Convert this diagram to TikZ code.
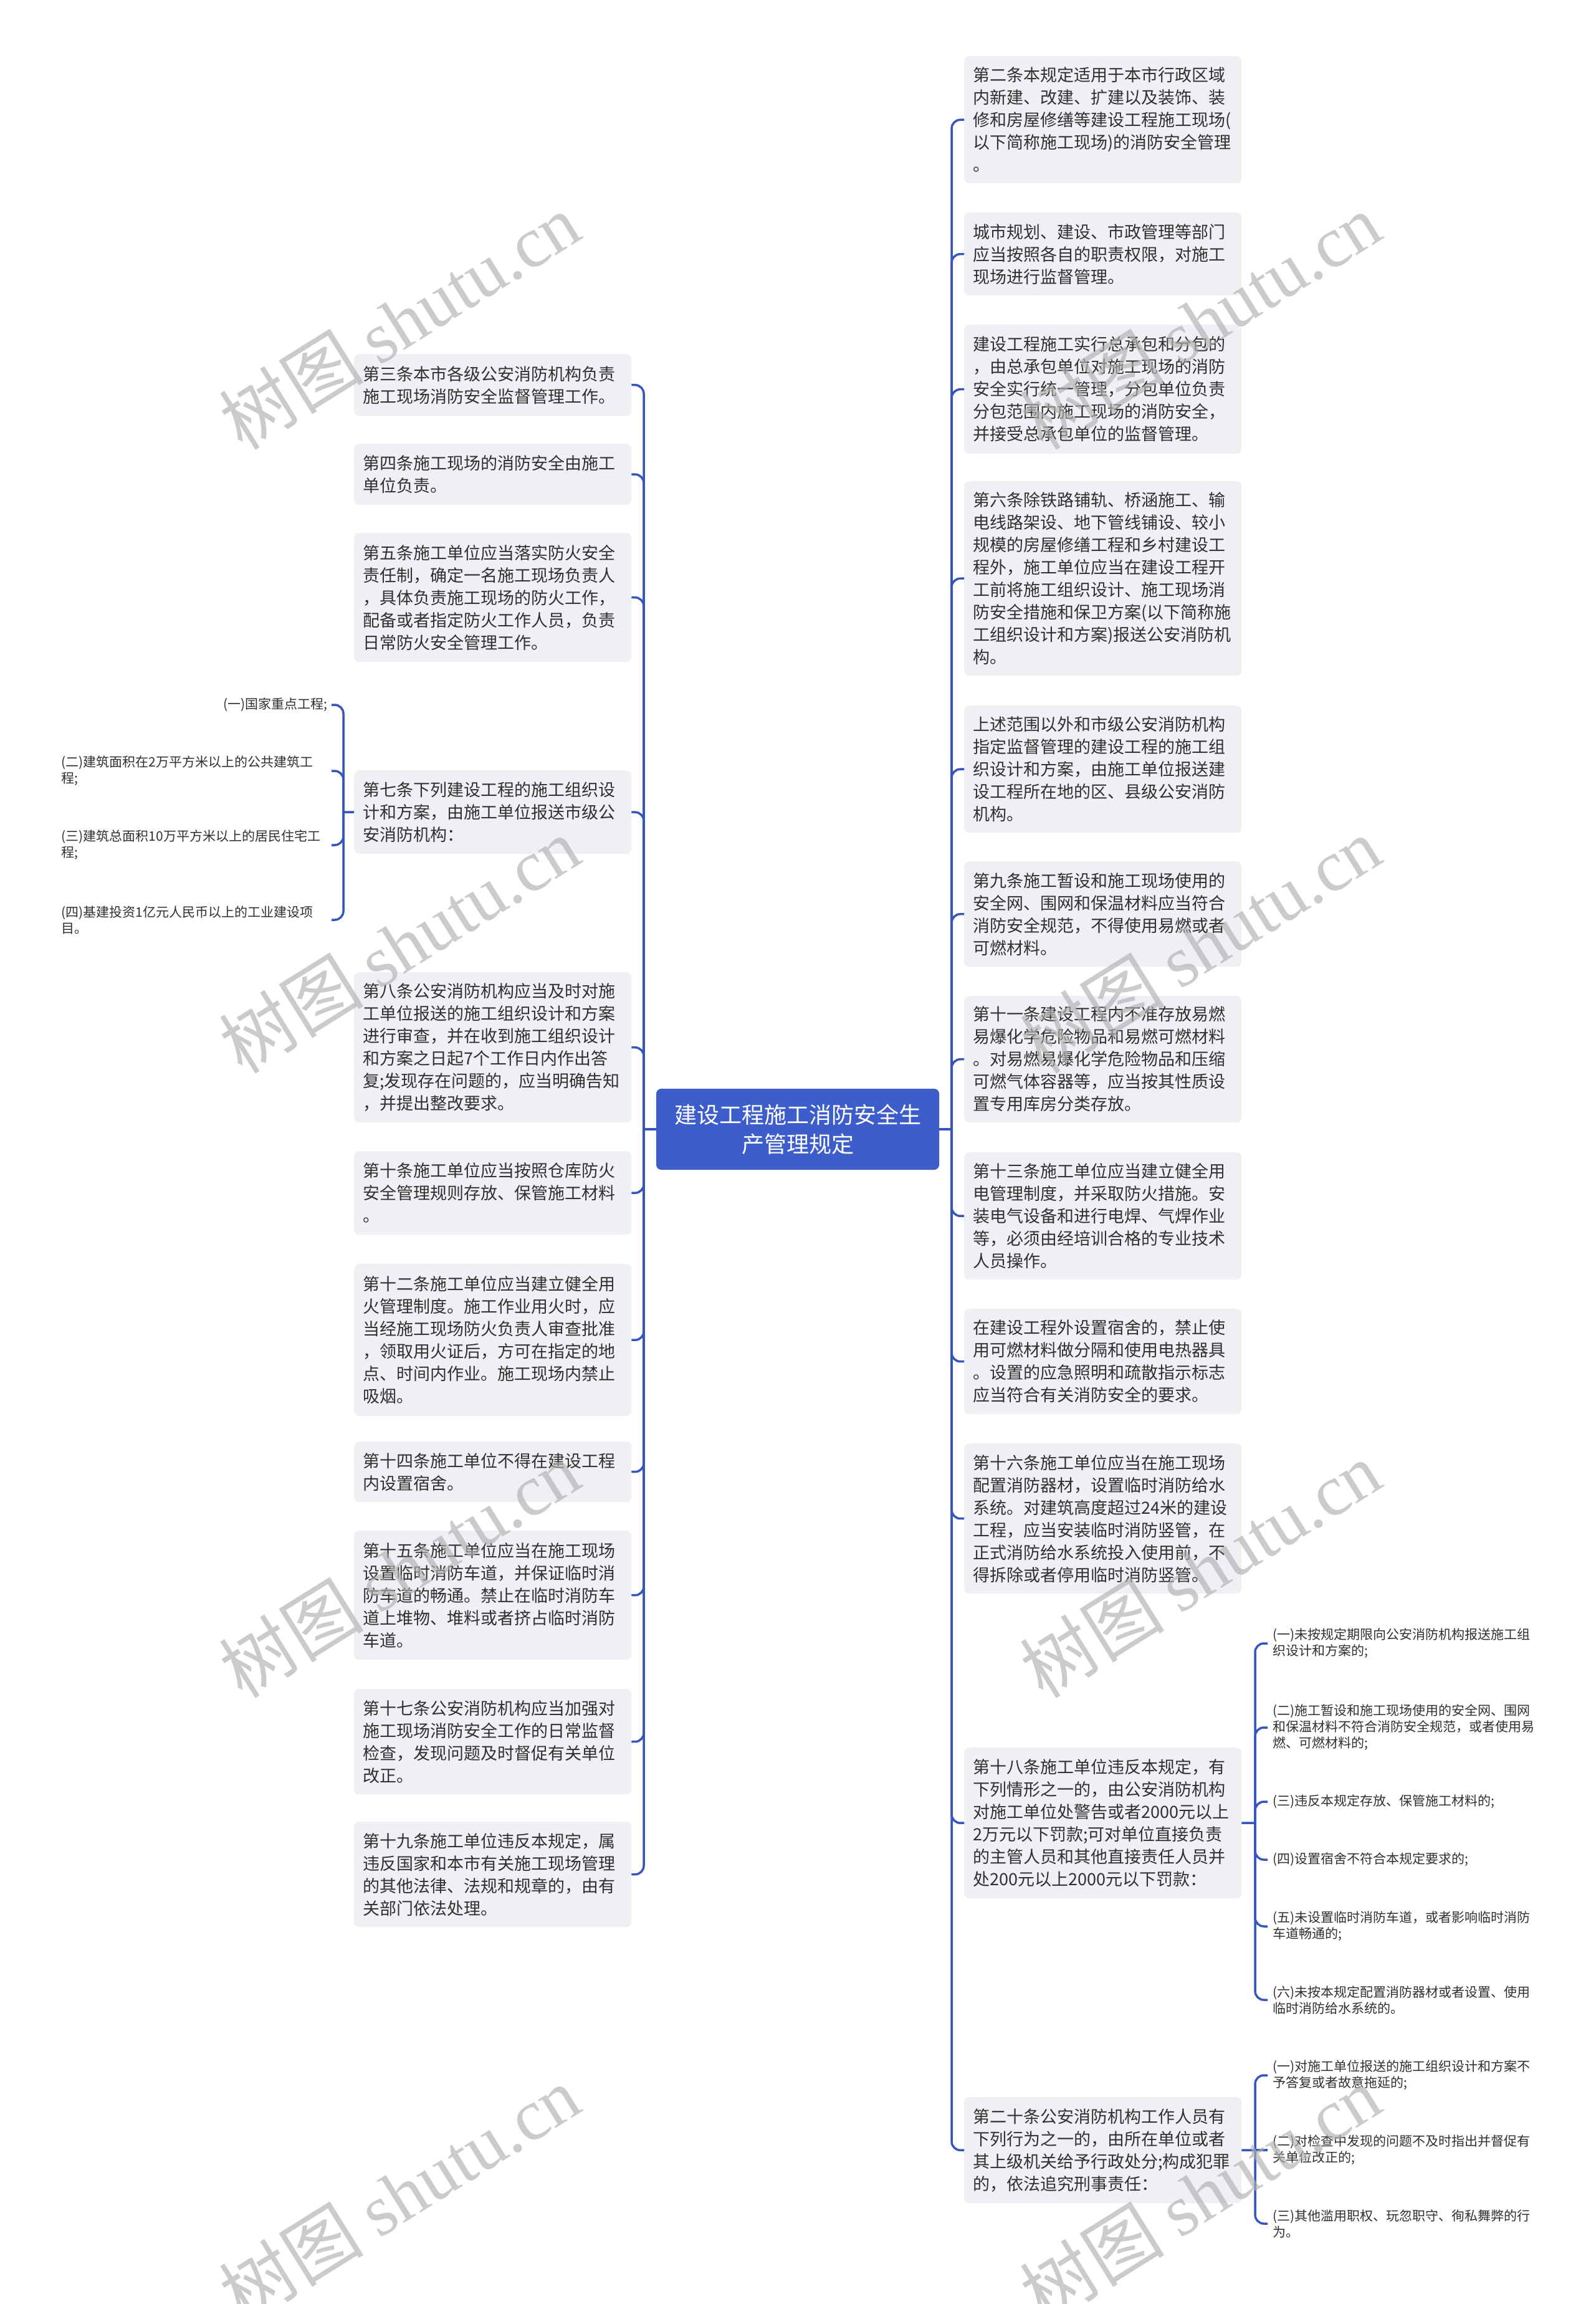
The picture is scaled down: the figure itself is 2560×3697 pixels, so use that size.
\documentclass[tikz,border=0pt]{standalone}
\usepackage{fontspec}
\setmainfont{Noto Sans CJK SC}
\newfontfamily\wmserif{Liberation Serif}
\definecolor{boxfill}{HTML}{EEF0F4}
\definecolor{textc}{HTML}{303030}
\definecolor{linec}{HTML}{3656BE}
\definecolor{rootc}{HTML}{3D5DCB}
\definecolor{wmc}{HTML}{B0B0B0}
\tikzset{
  box/.style={fill=boxfill, rounded corners=8pt, text width=417pt, minimum width=445pt,
    inner xsep=14pt, inner ysep=0pt, align=left, anchor=north west,
    font=\fontsize{27}{36}\selectfont, text=textc},
  rootbox/.style={fill=rootc, rounded corners=8pt, text=white, align=center,
    font=\fontsize{36}{47}\selectfont, minimum width=454pt, minimum height=130pt},
  leafl/.style={font=\fontsize{21}{26}\selectfont, text=textc, align=left,
    inner xsep=6pt, inner ysep=0pt, anchor=east},
  leaflw/.style={leafl, text width=427pt},
  leafr/.style={font=\fontsize{21}{26}\selectfont, text=textc, align=left,
    inner xsep=8pt, inner ysep=0pt, anchor=west},
  conn/.style={draw=linec, line width=3.5pt, rounded corners=14pt},
  wm/.style={text=wmc, opacity=0.65, rotate=32, font=\fontsize{116}{116}\selectfont}
}
\begin{document}
\begin{tikzpicture}[x=1pt,y=-1pt]
\fill[white] (0,0) rectangle (2560,3697);
\useasboundingbox (0,0) rectangle (2560,3697);

% root
\node[rootbox] (root) at (1280,1812) {建设工程施工消防安全生\\产管理规定};

% left column
\node[box, minimum height=99pt] (l1) at (568,568) {第三条本市各级公安消防机构负责\\施工现场消防安全监督管理工作。};
\node[box, minimum height=98pt] (l2) at (568,712) {第四条施工现场的消防安全由施工\\单位负责。};
\node[box, minimum height=207pt] (l3) at (568,855) {第五条施工单位应当落实防火安全\\责任制，确定一名施工现场负责人\\，具体负责施工现场的防火工作，\\配备或者指定防火工作人员，负责\\日常防火安全管理工作。};
\node[box, minimum height=134pt] (l4) at (568,1236) {第七条下列建设工程的施工组织设\\计和方案，由施工单位报送市级公\\安消防机构：};
\node[box, minimum height=241pt] (l5) at (568,1560) {第八条公安消防机构应当及时对施\\工单位报送的施工组织设计和方案\\进行审查，并在收到施工组织设计\\和方案之日起7个工作日内作出答\\复;发现存在问题的，应当明确告知\\，并提出整改要求。};
\node[box, minimum height=134pt] (l6) at (568,1847) {第十条施工单位应当按照仓库防火\\安全管理规则存放、保管施工材料\\。};
\node[box, minimum height=244pt] (l7) at (568,2028) {第十二条施工单位应当建立健全用\\火管理制度。施工作业用火时，应\\当经施工现场防火负责人审查批准\\，领取用火证后，方可在指定的地\\点、时间内作业。施工现场内禁止\\吸烟。};
\node[box, minimum height=97pt] (l8) at (568,2313) {第十四条施工单位不得在建设工程\\内设置宿舍。};
\node[box, minimum height=207pt] (l9) at (568,2456) {第十五条施工单位应当在施工现场\\设置临时消防车道，并保证临时消\\防车道的畅通。禁止在临时消防车\\道上堆物、堆料或者挤占临时消防\\车道。};
\node[box, minimum height=169pt] (l10) at (568,2710) {第十七条公安消防机构应当加强对\\施工现场消防安全工作的日常监督\\检查，发现问题及时督促有关单位\\改正。};
\node[box, minimum height=169pt] (l11) at (568,2923) {第十九条施工单位违反本规定，属\\违反国家和本市有关施工现场管理\\的其他法律、法规和规章的，由有\\关部门依法处理。};

% left sub-items of l4
\node[leafl] (l4a) at (532,1131) {(一)国家重点工程;};
\node[leaflw] (l4b) at (532,1237) {(二)建筑面积在2万平方米以上的公共建筑工\\程;};
\node[leaflw] (l4c) at (532,1356) {(三)建筑总面积10万平方米以上的居民住宅工\\程;};
\node[leaflw] (l4d) at (532,1476) {(四)基建投资1亿元人民币以上的工业建设项\\目。};

% right column
\node[box, minimum height=204pt] (r1) at (1547,90) {第二条本规定适用于本市行政区域\\内新建、改建、扩建以及装饰、装\\修和房屋修缮等建设工程施工现场(\\以下简称施工现场)的消防安全管理\\。};
\node[box, minimum height=133pt] (r2) at (1547,341) {城市规划、建设、市政管理等部门\\应当按照各自的职责权限，对施工\\现场进行监督管理。};
\node[box, minimum height=207pt] (r3) at (1547,521) {建设工程施工实行总承包和分包的\\，由总承包单位对施工现场的消防\\安全实行统一管理，分包单位负责\\分包范围内施工现场的消防安全，\\并接受总承包单位的监督管理。};
\node[box, minimum height=312pt] (r4) at (1547,772) {第六条除铁路铺轨、桥涵施工、输\\电线路架设、地下管线铺设、较小\\规模的房屋修缮工程和乡村建设工\\程外，施工单位应当在建设工程开\\工前将施工组织设计、施工现场消\\防安全措施和保卫方案(以下简称施\\工组织设计和方案)报送公安消防机\\构。};
\node[box, minimum height=204pt] (r5) at (1547,1132) {上述范围以外和市级公安消防机构\\指定监督管理的建设工程的施工组\\织设计和方案，由施工单位报送建\\设工程所在地的区、县级公安消防\\机构。};
\node[box, minimum height=169pt] (r6) at (1547,1382) {第九条施工暂设和施工现场使用的\\安全网、围网和保温材料应当符合\\消防安全规范，不得使用易燃或者\\可燃材料。};
\node[box, minimum height=203pt] (r7) at (1547,1598) {第十一条建设工程内不准存放易燃\\易爆化学危险物品和易燃可燃材料\\。对易燃易爆化学危险物品和压缩\\可燃气体容器等，应当按其性质设\\置专用库房分类存放。};
\node[box, minimum height=204pt] (r8) at (1547,1849) {第十三条施工单位应当建立健全用\\电管理制度，并采取防火措施。安\\装电气设备和进行电焊、气焊作业\\等，必须由经培训合格的专业技术\\人员操作。};
\node[box, minimum height=169pt] (r9) at (1547,2100) {在建设工程外设置宿舍的，禁止使\\用可燃材料做分隔和使用电热器具\\。设置的应急照明和疏散指示标志\\应当符合有关消防安全的要求。};
\node[box, minimum height=241pt] (r10) at (1547,2316) {第十六条施工单位应当在施工现场\\配置消防器材，设置临时消防给水\\系统。对建筑高度超过24米的建设\\工程，应当安装临时消防竖管，在\\正式消防给水系统投入使用前，不\\得拆除或者停用临时消防竖管。};
\node[box, minimum height=242pt] (r11) at (1547,2804) {第十八条施工单位违反本规定，有\\下列情形之一的，由公安消防机构\\对施工单位处警告或者2000元以上\\2万元以下罚款;可对单位直接负责\\的主管人员和其他直接责任人员并\\处200元以上2000元以下罚款：};
\node[box, minimum height=170pt] (r12) at (1547,3365) {第二十条公安消防机构工作人员有\\下列行为之一的，由所在单位或者\\其上级机关给予行政处分;构成犯罪\\的，依法追究刑事责任：};

% right sub-items
\node[leafr] (r11a) at (2034,2637) {(一)未按规定期限向公安消防机构报送施工组\\织设计和方案的;};
\node[leafr] (r11b) at (2034,2772) {(二)施工暂设和施工现场使用的安全网、围网\\和保温材料不符合消防安全规范，或者使用易\\燃、可燃材料的;};
\node[leafr] (r11c) at (2034,2891) {(三)违反本规定存放、保管施工材料的;};
\node[leafr] (r11d) at (2034,2984) {(四)设置宿舍不符合本规定要求的;};
\node[leafr] (r11e) at (2034,3091) {(五)未设置临时消防车道，或者影响临时消防\\车道畅通的;};
\node[leafr] (r11f) at (2034,3209) {(六)未按本规定配置消防器材或者设置、使用\\临时消防给水系统的。};
\node[leafr] (r12a) at (2034,3330) {(一)对施工单位报送的施工组织设计和方案不\\予答复或者故意拖延的;};
\node[leafr] (r12b) at (2034,3450) {(二)对检查中发现的问题不及时指出并督促有\\关单位改正的;};
\node[leafr] (r12c) at (2034,3568) {(三)其他滥用职权、玩忽职守、徇私舞弊的行\\为。};

% connectors
\coordinate (ls) at (1033,1812);
\coordinate (rs) at (1527,1812);
\coordinate (s7) at (551,1303);
\coordinate (s18) at (2014,2925);
\coordinate (s20) at (2014,3450);

\draw[conn] (root.west) -- (ls);
\draw[conn] (root.east) -- (rs);
\foreach \n in {l1,l2,l3,l4,l5,l6,l7,l8,l9,l10,l11}
  \draw[conn] (ls) |- (\n.east);
\foreach \n in {r1,r2,r3,r4,r5,r6,r7,r8,r9,r10,r11,r12}
  \draw[conn] (rs) |- (\n.west);
\draw[conn] (l4.west) -- (s7);
\foreach \n in {l4a,l4b,l4c,l4d}
  \draw[conn] (s7) |- (\n.east);
\draw[conn] (r11.east) -- (s18);
\foreach \n in {r11a,r11b,r11c,r11d,r11e,r11f}
  \draw[conn] (s18) |- (\n.west);
\draw[conn] (r12.east) -- (s20);
\draw[conn] (s20) |- (r12a.west);
\draw[conn] (s20) -- (r12b.west);
\draw[conn] (s20) |- (r12c.west);

% watermarks
\node[wm] (w1) at (641,515) {树图 {\wmserif shutu.cn}};
\node[wm] (w2) at (641,1516) {树图 {\wmserif shutu.cn}};
\node[wm] (w3) at (641,2518) {树图 {\wmserif shutu.cn}};
\node[wm] (w4) at (641,3520) {树图 {\wmserif shutu.cn}};
\node[wm] (w5) at (1926,515) {树图 {\wmserif shutu.cn}};
\node[wm] (w6) at (1926,1516) {树图 {\wmserif shutu.cn}};
\node[wm] (w7) at (1926,2518) {树图 {\wmserif shutu.cn}};
\node[wm] (w8) at (1926,3520) {树图 {\wmserif shutu.cn}};
\end{tikzpicture}
\end{document}
